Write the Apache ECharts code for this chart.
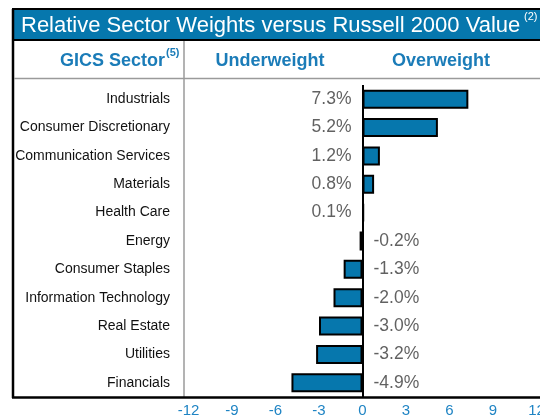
<!DOCTYPE html>
<html>
<head>
<meta charset="utf-8">
<script src="https://cdn.jsdelivr.net/npm/echarts@6/dist/echarts.min.js"></script>
<style>
html,body{margin:0;padding:0;background:#fff;}
#chart{width:540px;height:415px;}
</style>
</head>
<body>
<div id="chart"></div>
<script>
const categories = ['Industrials','Consumer Discretionary','Communication Services','Materials','Health Care','Energy','Consumer Staples','Information Technology','Real Estate','Utilities','Financials'];
const values = [7.3, 5.2, 1.2, 0.8, 0.1, -0.2, -1.3, -2.0, -3.0, -3.2, -4.9];
const xMin = -12;
const xMax = 12;
const xInterval = 3;
const titleText = 'Relative Sector Weights versus Russell 2000 Value';
const titleNote = '(2)';
const colHeaders = ['GICS Sector', 'Underweight', 'Overweight'];
const colNote = '(5)';

const FONT = '"Liberation Sans", Arial, Helvetica, sans-serif';
const BLUE = '#0677AD';
const TEXTBLUE = '#1B7CB8';

const chart = echarts.init(document.getElementById('chart'), null, {renderer: 'canvas'});

const option = {
  animation: false,
  backgroundColor: '#fff',
  grid: {left: 188.5, right: 3.5, top: 85, bottom: 18, containLabel: false, outerBoundsMode: 'none'},
  xAxis: {
    type: 'value', min: xMin, max: xMax, interval: xInterval,
    axisLine: {show: false}, axisTick: {show: false}, splitLine: {show: false},
    axisLabel: {color: '#1F84C4', fontSize: 15, fontFamily: FONT, margin: 6, hideOverlap: false}
  },
  yAxis: {
    type: 'category', data: categories, inverse: true,
    axisLine: {show: false}, axisTick: {show: false}, splitLine: {show: false},
    axisLabel: {color: '#111', fontSize: 14, fontFamily: FONT, margin: 18.5}
  },
  series: [
    {
      type: 'bar',
      data: values,
      barWidth: 19,
      itemStyle: {color: BLUE, borderColor: '#000', borderWidth: 2},
      markLine: {
        symbol: 'none', silent: true, label: {show: false},
        lineStyle: {color: '#000', width: 2, type: 'solid'},
        data: [{xAxis: 0}]
      },
      z: 2
    },
    {
      type: 'scatter',
      symbolSize: 0,
      silent: true,
      data: categories.map((c, i) => ({
        value: [0, c],
        label: {position: values[i] >= 0 ? 'left' : 'right'}
      })),
      label: {
        show: true, distance: 11,
        fontSize: 17.5, fontFamily: FONT, color: '#3a3a3a',
        formatter: p => values[p.dataIndex].toFixed(1) + '%'
      },
      z: 3
    }
  ],
  graphic: [
    {type: 'rect', shape: {x: 13, y: 9, width: 540, height: 31}, style: {fill: BLUE, stroke: '#000', lineWidth: 2}, z: 10},
    {type: 'text', x: 21, y: 26, style: {text: titleText, fill: '#fff', font: '22px ' + FONT, textVerticalAlign: 'middle'}, z: 11},
    {type: 'text', x: 524, y: 17, style: {text: titleNote, fill: '#fff', font: '11px ' + FONT, textVerticalAlign: 'middle'}, z: 11},
    {type: 'line', shape: {x1: 13, y1: 9, x2: 13, y2: 398}, style: {stroke: '#000', lineWidth: 2.5}, z: 10},
    {type: 'line', shape: {x1: 14, y1: 78.5, x2: 540, y2: 78.5}, style: {stroke: '#9a9a9a', lineWidth: 1.5}, z: 10},
    {type: 'line', shape: {x1: 184, y1: 41, x2: 184, y2: 397}, style: {stroke: '#9a9a9a', lineWidth: 1.5}, z: 10},
    {type: 'line', shape: {x1: 12, y1: 397.5, x2: 540, y2: 397.5}, style: {stroke: '#000', lineWidth: 2.5}, z: 10},
    {type: 'text', x: 165, y: 61, style: {text: colHeaders[0], fill: TEXTBLUE, font: 'bold 18px ' + FONT, textAlign: 'right', textVerticalAlign: 'middle'}, z: 11},
    {type: 'text', x: 166, y: 53, style: {text: colNote, fill: TEXTBLUE, font: 'bold 11px ' + FONT, textVerticalAlign: 'middle'}, z: 11},
    {type: 'text', x: 270, y: 61, style: {text: colHeaders[1], fill: TEXTBLUE, font: 'bold 18px ' + FONT, textAlign: 'center', textVerticalAlign: 'middle'}, z: 11},
    {type: 'text', x: 441, y: 61, style: {text: colHeaders[2], fill: TEXTBLUE, font: 'bold 18px ' + FONT, textAlign: 'center', textVerticalAlign: 'middle'}, z: 11}
  ]
};
chart.setOption(option);
</script>
</body>
</html>
